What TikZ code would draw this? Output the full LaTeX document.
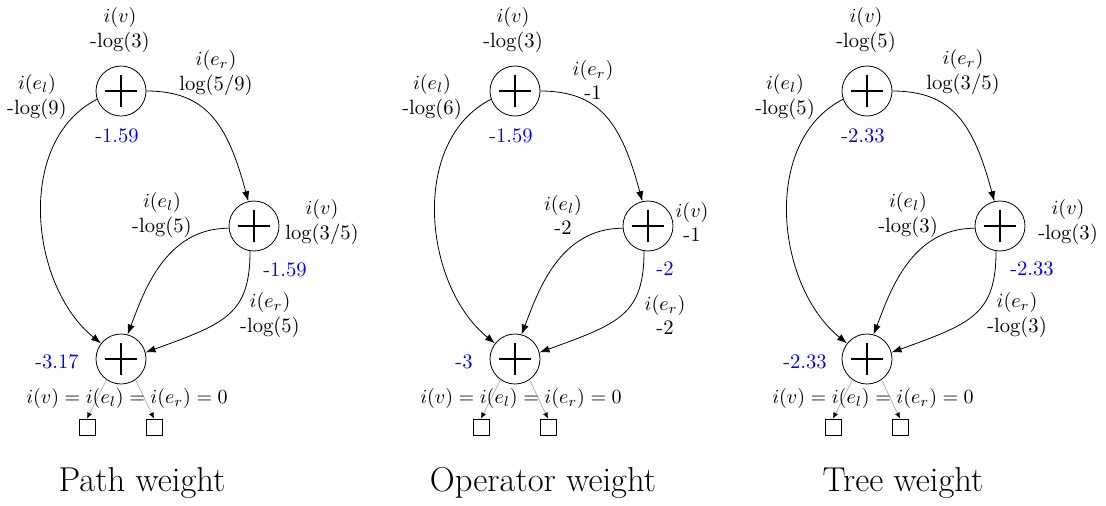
\documentclass[tikz,border=0pt]{standalone}
\usetikzlibrary{arrows.meta}
\begin{document}
\begin{tikzpicture}[x=0.5pt, y=0.5pt, font=\fontsize{10.3}{12.4}\selectfont,
  opnode/.style={circle, draw, minimum size=25pt, inner sep=0pt,
    path picture={\draw[line width=0.9pt]
      ([xshift=-8.2pt]path picture bounding box.center) -- ([xshift=8.2pt]path picture bounding box.center)
      ([yshift=-8.2pt]path picture bounding box.center) -- ([yshift=8.2pt]path picture bounding box.center);}},
  leaf/.style={draw, minimum size=8pt, inner sep=0pt},
  link/.style={-{Latex[length=5pt,width=3.6pt]}},
  leaflink/.style={draw=gray!60, -{Latex[length=3pt,width=2.6pt,black]}},
  lbl/.style={align=center, inner sep=0pt},
  val/.style={text=blue, inner sep=0pt},
  caption/.style={font=\LARGE, inner sep=0pt}]
  \useasboundingbox (0,0) rectangle (1106,-505);
  % the same graph in all three panels
  \foreach \p/\dx in {a/0, b/394, c/746} {
    \begin{scope}[shift={(\dx,0)}]
      \node[opnode] (\p top) at (121,-91) {};
      \node[opnode] (\p mid) at (254,-226) {};
      \node[opnode] (\p bot) at (121,-359) {};
      \node[leaf] (\p sl) at (87,-427) {};
      \node[leaf] (\p sr) at (154,-427) {};
      \draw[link] (\p top.east) to[out=0, in=105, out distance=30pt, in distance=40pt] (\p mid.103);
      \draw[link] (\p top.199) to[out=207, in=141, out distance=46pt, in distance=46pt] (\p bot.142);
      \draw[link] (\p mid.185) to[out=180, in=69, out distance=32pt, in distance=22pt] (\p bot.75);
      \draw[link] (\p mid.261) to[out=270, in=20, out distance=32pt, in distance=42pt] (\p bot.15);
      \draw[leaflink] (\p bot.235) -- (\p sl.north);
      \draw[leaflink] (\p bot.305) -- (\p sr.north);
      \node[lbl] (\p eq) at (127,-398) {$i(v) = i(e_l) = i(e_r) = 0$};
    \end{scope}
  }
  % path weight
  \node[lbl] (atopv) at (120,-30) {$i(v)$\\-log(3)};
  \node[lbl] (atopl) at (37,-97) {$i(e_l)$\\-log(9)};
  \node[lbl] (atopr) at (216,-73) {$i(e_r)$\\log(5/9)};
  \node[val] (atopw) at (117,-136) {-1.59};
  \node[lbl] (amidl) at (162,-215) {$i(e_l)$\\-log(5)};
  \node[lbl] (amidv) at (322,-222) {$i(v)$\\log(3/5)};
  \node[val] (amidw) at (285,-270) {-1.59};
  \node[lbl] (amidr) at (270,-315) {$i(e_r)$\\-log(5)};
  \node[val] (abotw) at (57,-362) {-3.17};
  \node[caption] (acap) at (142,-483) {Path weight};
  % operator weight
  \begin{scope}[shift={(394,0)}]
    \node[lbl] (btopv) at (119,-30) {$i(v)$\\-log(3)};
    \node[lbl] (btopl) at (38,-97) {$i(e_l)$\\-log(6)};
    \node[lbl] (btopr) at (199,-80) {$i(e_r)$\\-1};
    \node[val] (btopw) at (117,-136) {-1.59};
    \node[lbl] (bmidl) at (169,-215) {$i(e_l)$\\-2};
    \node[lbl] (bmidv) at (298,-222) {$i(v)$\\-1};
    \node[val] (bmidw) at (271,-269) {-2};
    \node[lbl] (bmidr) at (271,-315) {$i(e_r)$\\-2};
    \node[val] (bbotw) at (70,-362) {-3};
    \node[caption] (bcap) at (149,-483) {Operator weight};
  \end{scope}
  % tree weight
  \begin{scope}[shift={(746,0)}]
    \node[lbl] (ctopv) at (120,-30) {$i(v)$\\-log(5)};
    \node[lbl] (ctopl) at (39,-97) {$i(e_l)$\\-log(5)};
    \node[lbl] (ctopr) at (217,-72) {$i(e_r)$\\log(3/5)};
    \node[val] (ctopw) at (117,-136) {-2.33};
    \node[lbl] (cmidl) at (162,-215) {$i(e_l)$\\-log(3)};
    \node[lbl] (cmidv) at (322,-222) {$i(v)$\\-log(3)};
    \node[val] (cmidw) at (286,-269) {-2.33};
    \node[lbl] (cmidr) at (271,-315) {$i(e_r)$\\-log(3)};
    \node[val] (cbotw) at (59,-362) {-2.33};
    \node[caption] (ccap) at (157,-483) {Tree weight};
  \end{scope}
\end{tikzpicture}
\end{document}
